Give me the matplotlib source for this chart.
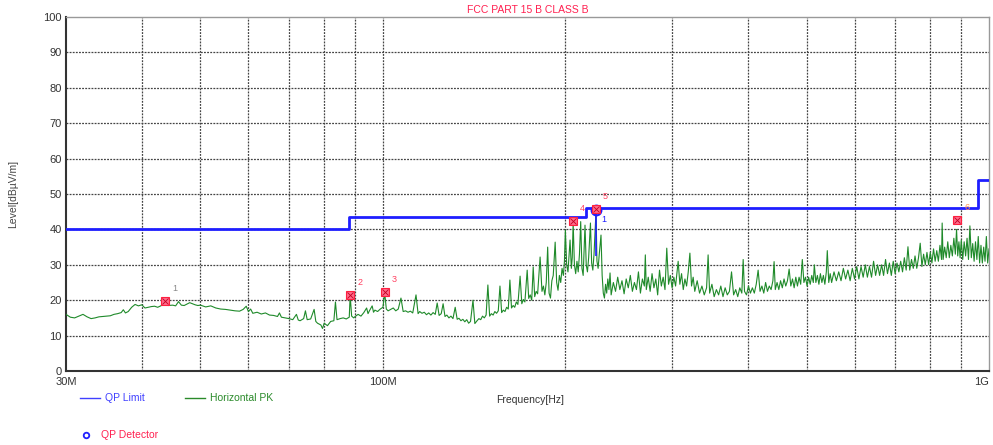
import matplotlib
matplotlib.use("Agg")
import matplotlib.pyplot as plt
from matplotlib.lines import Line2D

plt.rcParams['font.family'] = ['Liberation Sans', 'DejaVu Sans']

# ---------------- data ----------------
limit_freq = [30, 88, 88, 216, 216, 960, 960, 1000]
limit_level = [40, 40, 43.5, 43.5, 46, 46, 54, 54]

trace_freq = [
    30, 30.5, 31, 31.5, 32, 32.5, 33, 33.5, 34, 34.5, 35, 35.5, 36, 36.5, 37, 37.3, 37.6, 38, 38.5, 39, 39.5, 40,
    40.5, 41, 41.5, 42, 42.5, 43, 43.7, 44.2, 45, 45.5, 46, 46.5, 47, 47.5, 48, 48.5, 49, 49.5, 50,
    51, 52, 53, 54, 55, 56, 57, 58, 58.8, 59.5, 60, 60.5, 61, 62, 63, 64, 65, 66, 67, 67.5, 68, 69, 70,
    71, 72, 72.5, 73, 74, 74.5, 75, 76, 77, 77.5, 78, 79, 79.5, 80, 81, 82, 83, 83.5, 84, 85, 86, 87, 88, 88.3, 88.8, 89.5, 90,
    91, 92, 93, 94, 94.5, 95, 96, 96.5, 97, 98, 99, 100, 100.7, 101.3, 102, 103, 104, 105, 106, 107.1, 108, 109, 110,
    111, 112, 113.4, 114.3, 115, 116, 117, 118, 119, 120, 121, 122, 122.9, 123.8, 124.8, 125.7, 126.6, 127.5, 128.5, 129.5,
    130.5, 131.6, 132.6, 133.5, 134.5, 135.5, 136.5, 137.5, 138.5, 139.5, 140.8, 141.8, 143, 144, 145, 146, 147, 148, 149,
    150, 151, 152, 153, 154, 155, 156, 157, 158, 159, 160, 161, 162, 163, 164, 165, 166, 167, 168.4, 169.5, 170.5, 171.5,
    173, 174, 175, 176, 177, 178, 179, 180, 181.7, 183, 184, 185, 186, 187, 188, 189, 190, 191, 192.4, 193.5, 194.5, 195.5,
    196.5, 197.5, 198.5, 199.3, 200, 201, 202, 203.6, 204.6, 205.3, 206, 207, 208, 209, 210, 211, 212, 213, 214, 215.5,
    216.5, 217.5, 218.5, 220, 221, 222, 223, 224.7, 225.5, 226.5, 227.5, 229, 230, 231, 232, 233, 234, 235, 236, 237, 238,
    240, 242, 244, 246, 248, 250, 252, 254, 256, 258, 260, 262, 264, 266, 268, 270, 271, 272, 274, 276, 278, 280, 282, 284,
    286, 288, 290, 292, 294, 296, 298, 300, 302, 304, 307, 309, 311, 313, 315, 317, 319, 321, 323, 325, 327, 330, 333, 336,
    339, 342, 344, 346, 349, 352, 355, 358, 361, 364, 367, 370, 373, 376, 379, 382, 385, 388, 391, 393, 395, 398, 401, 404,
    407, 410, 413, 416, 419, 422, 425, 428, 431, 434, 437, 440, 442, 444, 447, 450, 453, 456, 459, 462, 465, 468, 471, 474,
    477, 480, 483, 486, 489, 492, 495, 498, 501, 504, 507, 510, 513, 515, 518, 521, 524, 527, 530, 533, 536, 539, 541, 544,
    547, 550, 555, 560, 565, 570, 575, 580, 585, 590, 595, 600, 605, 610, 615, 620, 625, 630, 635, 640, 645, 650, 655, 660,
    665, 670, 675, 680, 685, 690, 695, 700, 705, 710, 715, 720, 725, 730, 735, 740, 745, 750, 755, 760, 765, 770, 775, 780,
    785, 790, 795, 800, 805, 810, 815, 820, 825, 830, 835, 837, 840, 845, 850, 855, 860, 865, 870, 875, 880, 884, 888, 892,
    896, 900, 905, 910, 915, 920, 925, 930, 935, 940, 945, 950, 955, 960, 965, 970, 975, 980, 985, 990, 995, 1000,
]
trace_level = [
    16.0, 15.2, 15.0, 15.5, 16.0, 15.3, 14.8, 15.0, 15.3, 15.4, 15.5, 15.6, 16.0, 16.2, 16.5, 17.3, 16.4, 16.8, 18.0, 18.8, 18.4, 18.7,
    17.8, 18.0, 18.2, 18.3, 18.0, 18.4, 19.3, 18.5, 18.6, 18.4, 19.6, 18.6, 18.5, 18.9, 19.3, 19.0, 18.7, 18.5, 18.6,
    18.1, 18.4, 17.8, 17.5, 17.4, 17.2, 17.0, 16.9, 17.4, 18.3, 16.8, 17.5, 16.3, 16.6, 16.1, 16.4, 15.8, 15.7, 15.4, 16.4, 15.2, 15.0, 14.8,
    14.5, 16.0, 14.4, 14.2, 14.8, 17.0, 14.5, 14.7, 17.4, 14.0, 13.5, 13.0, 12.0, 13.5, 12.8, 14.0, 14.2, 19.5, 14.5, 14.8, 15.0, 14.7, 15.2, 21.3, 15.5, 15.0, 15.4,
    16.0, 15.5, 16.5, 17.8, 16.2, 17.0, 18.4, 16.6, 17.2, 16.8, 17.5, 18.0, 22.0, 17.5, 17.0, 17.4, 17.8, 17.0, 17.5, 20.6, 16.8, 17.0, 16.6,
    16.9, 16.4, 21.5, 16.2, 16.8, 16.3, 16.6, 15.9, 16.4, 15.8, 16.5, 16.0, 19.2, 15.7, 16.2, 19.0, 15.4, 15.8, 15.0, 15.5,
    14.8, 18.0, 14.6, 14.9, 14.2, 14.6, 13.9, 14.5, 13.5, 14.0, 20.0, 13.4, 14.2, 14.8, 14.5, 15.5, 15.0, 15.8, 24.3,
    15.5, 16.2, 15.8, 16.8, 16.3, 17.0, 24.0, 16.5, 17.2, 16.8, 18.0, 17.5, 25.7, 17.8, 18.5, 18.0, 19.5, 18.8, 26.8, 19.0, 20.2, 19.5,
    28.5, 20.5, 21.5, 20.0, 29.4, 21.0, 22.5, 21.8, 32.2, 22.5, 24.0, 21.5, 25.0, 35.0, 22.0, 20.6, 25.5, 27.0, 36.4, 25.0, 22.8, 27.0,
    25.0, 29.0, 27.0, 31.0, 39.8, 30.0, 28.0, 37.0, 29.0, 32.0, 42.0, 30.0, 27.5, 31.0, 28.0, 33.0, 42.2, 29.0, 27.0, 41.2,
    30.0, 28.0, 32.0, 41.8, 30.5, 28.5, 33.0, 45.2, 31.0, 29.0, 33.0, 38.4, 27.0, 22.0, 20.6, 24.5, 22.0, 26.0, 23.0, 27.7, 21.5,
    25.0, 22.5, 26.5, 23.0, 25.5, 21.8, 26.0, 23.5, 27.0, 22.5, 25.0, 23.0, 28.0, 22.0, 26.0, 24.0, 32.8, 23.0, 26.5, 22.5, 27.5, 23.5, 26.0, 21.5,
    28.5, 24.0, 26.5, 23.0, 34.7, 24.5, 27.0, 23.5, 26.5, 24.0, 31.0, 24.5, 27.5, 23.0, 26.0, 24.0, 28.0, 33.3, 24.0, 26.5, 22.5, 25.5, 22.0, 24.0,
    21.5, 23.5, 32.8, 22.0, 24.5, 21.0, 23.0, 21.5, 24.0, 21.0, 23.5, 21.5, 22.5, 28.0, 21.5, 23.0, 21.0, 23.5, 22.0, 31.5, 22.5, 21.5, 24.0, 22.0,
    23.5, 22.0, 24.5, 28.5, 22.5, 24.0, 22.0, 25.0, 22.5, 24.0, 23.0, 25.5, 30.9, 23.0, 25.0, 23.0, 25.5, 23.5, 26.0, 24.0, 25.5, 28.8, 24.0, 26.0,
    23.5, 26.5, 24.0, 26.5, 24.5, 31.5, 25.0, 26.5, 24.0, 26.5, 24.5, 27.0, 25.0, 30.0, 25.0, 27.0, 24.5, 27.5, 25.0, 27.0, 24.5, 28.0, 34.0, 25.0,
    27.5, 25.0, 28.0, 25.5, 28.0, 25.5, 29.0, 26.0, 28.5, 25.5, 29.0, 26.0, 29.5, 26.0, 29.5, 26.5, 30.0, 26.5, 29.5, 26.5, 31.0, 27.0, 30.0, 27.0,
    30.0, 27.0, 31.5, 27.5, 30.5, 27.0, 31.0, 27.5, 30.5, 28.0, 31.0, 28.0, 32.0, 28.5, 35.1, 28.5, 31.5, 29.0, 32.5, 29.0, 32.0, 36.1, 29.5, 33.0,
    30.0, 33.5, 30.0, 33.5, 30.5, 34.5, 31.0, 34.0, 31.0, 35.5, 31.5, 41.8, 31.5, 35.0, 32.0, 36.5, 32.0, 35.5, 32.5, 37.5, 33.0, 40.0, 32.5, 36.5,
    32.0, 37.0, 31.5, 36.5, 32.5, 37.5, 31.5, 41.0, 32.0, 36.0, 31.0, 36.5, 31.5, 38.0, 30.5, 35.5, 30.5, 35.0, 31.0, 38.0, 30.5, 34.5,
]

marker_freq = [43.7, 88.3, 100.7, 206, 224.7, 886]
marker_level = [19.8, 21.6, 22.3, 42.4, 45.8, 42.6]
marker_labels = ['1', '2', '3', '4', '5', '6']
marker_label_colors = ['#888888', '#ff4060', '#ff4060', '#ff4060', '#ff4060', '#ff9050']

qp_freq = [224.7]
qp_level = [45.5]
qp_stem_low = [32.5]

y_ticks = [0, 10, 20, 30, 40, 50, 60, 70, 80, 90, 100]
x_major = [30, 100, 1000]
x_major_labels = ['30M', '100M', '1G']
x_minor = [40, 50, 60, 70, 80, 90, 200, 300, 400, 500, 600, 700, 800, 900]

# ---------------- figure ----------------
W, H = 993, 445
fig = plt.figure(figsize=(W / 100, H / 100), dpi=100)
ax = fig.add_axes([66 / W, 1 - 371 / H, (989 - 66) / W, (371 - 17) / H])
ax.set_xscale('log')
ax.set_xlim(30, 1000)
ax.set_ylim(0, 100)

grid_kw = dict(color='#444444', linewidth=0.9, linestyle=(0, (1.5, 1)), zorder=1)
for v in x_minor + [100]:
    ax.axvline(v, **grid_kw)
for v in y_ticks[1:-1]:
    ax.axhline(v, **grid_kw)

ax.plot(trace_freq, trace_level, color='#1f8a2a', linewidth=0.8, zorder=3)
ax.plot(limit_freq, limit_level, color='#1e1eff', linewidth=2.0, zorder=4)

ax.vlines(qp_freq, qp_stem_low, qp_level, color='#1e1eff', linewidth=1.2, zorder=4)
ax.plot(marker_freq, marker_level, linestyle='none', marker='s', markersize=6,
        markerfacecolor='#ff6a8a', markeredgecolor='#ff2040', markeredgewidth=0.8, zorder=6)
ax.plot(marker_freq, marker_level, linestyle='none', marker='x', markersize=4,
        color='#c00020', markeredgewidth=0.6, zorder=7)
ax.plot(qp_freq, qp_level, linestyle='none', marker='o', markersize=7,
        markerfacecolor='none', markeredgecolor='#1e1eff', markeredgewidth=1.5, zorder=5)

for f, l, t, c in zip(marker_freq, marker_level, marker_labels, marker_label_colors):
    ax.annotate(t, (f, l), xytext=(5, 7), textcoords='offset points',
                fontsize=6.5, color=c, zorder=8)
for f, l in zip(qp_freq, qp_level):
    ax.annotate('1', (f, l), xytext=(4, -9), textcoords='offset points',
                fontsize=6.5, color='#1e1eff', zorder=8)

ax.set_xticks(x_major)
ax.set_xticklabels(x_major_labels)
ax.set_xticks([], minor=True)
ax.set_yticks(y_ticks)
ax.tick_params(axis='both', length=0, labelsize=8, colors='#333333')
ax.tick_params(axis='x', pad=4)
ax.tick_params(axis='y', pad=3)
ax.get_xticklabels()[-1].set_horizontalalignment('right')

for side in ['left', 'bottom']:
    ax.spines[side].set_color('#333333')
    ax.spines[side].set_linewidth(1.5)
for side in ['top', 'right']:
    ax.spines[side].set_color('#999999')
    ax.spines[side].set_linewidth(1.0)

ax.set_title('FCC PART 15 B CLASS B', fontsize=7.5, color='#ff2050', pad=3)
fig.text(530 / W, 1 - 400 / H, 'Frequency[Hz]', fontsize=7.5, color='#333333',
         ha='center', va='center')
fig.text(13 / W, 1 - 194 / H, 'Level[dBµV/m]', fontsize=7.5, color='#444444',
         ha='center', va='center', rotation=90)

# legend drawn as figure artists
fig.add_artist(Line2D([80 / W, 100 / W], [1 - 398 / H] * 2, color='#4040ff', linewidth=1.0))
fig.text(105 / W, 1 - 398 / H, 'QP Limit', fontsize=7.5, color='#4040ff', va='center')
fig.add_artist(Line2D([185 / W, 205 / W], [1 - 398 / H] * 2, color='#2a8a2a', linewidth=1.0))
fig.text(210 / W, 1 - 398 / H, 'Horizontal PK', fontsize=7.5, color='#2a8a2a', va='center')
fig.add_artist(Line2D([86 / W], [1 - 435 / H], marker='o', markersize=4, markerfacecolor='none',
                      markeredgecolor='#2020ff', markeredgewidth=1.3, linestyle='none'))
fig.text(101 / W, 1 - 435 / H, 'QP Detector', fontsize=7.5, color='#ff2050', va='center')

fig.savefig('out.png', dpi=100)
